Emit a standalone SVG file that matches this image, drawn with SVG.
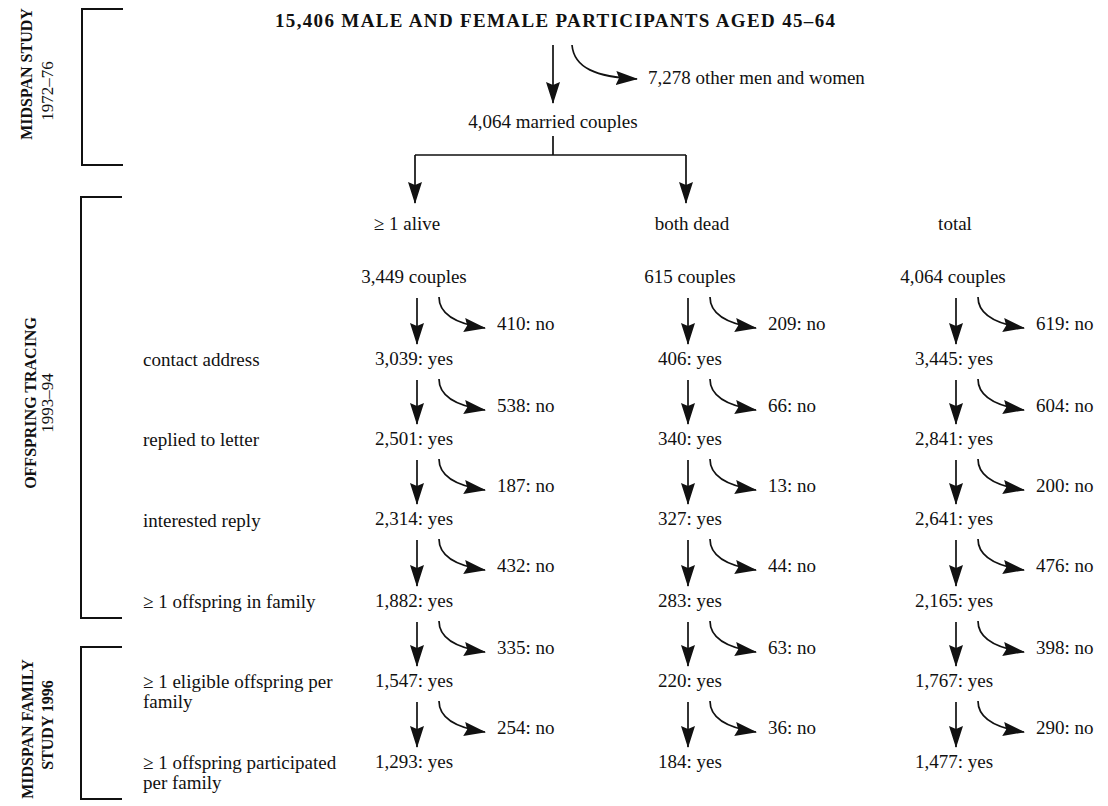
<svg xmlns="http://www.w3.org/2000/svg" width="1108" height="806" viewBox="0 0 1108 806">
<style>
text{font-family:"Liberation Serif","Times New Roman",serif;fill:#111;}
.t{font-size:19px;}
.c{font-size:19px;text-anchor:middle;}
.title{font-size:19px;font-weight:bold;text-anchor:middle;}
.sect{font-size:16px;font-weight:bold;text-anchor:middle;}
.yr{font-size:17px;text-anchor:middle;}
.ln{stroke:#111;stroke-width:1.7;fill:none;}
.ar{stroke:#111;stroke-width:1.7;fill:none;marker-end:url(#ah);}
.br{stroke:#111;stroke-width:2;fill:none;}
</style>
<defs>
<marker id="ah" markerUnits="userSpaceOnUse" markerWidth="22" markerHeight="14" refX="21" refY="7" orient="auto">
<path d="M0,0 L22,7 L0,14 L3,7 Z" fill="#111"/>
</marker>
</defs>
<rect width="1108" height="806" fill="#fff"/>

<g id="sections">
<path class="br" d="M123,9 H82 V165 H123"/>
<path class="br" d="M122,197 H81 V618 H122"/>
<path class="br" d="M122,647 H81 V799 H122"/>
<text class="sect" transform="translate(32,74) rotate(-90)">MIDSPAN STUDY</text>
<text class="yr" transform="translate(53,91) rotate(-90)">1972–76</text>
<text class="sect" transform="translate(36,403) rotate(-90)">OFFSPRING TRACING</text>
<text class="yr" transform="translate(53,403) rotate(-90)">1993–94</text>
<text class="sect" transform="translate(33,729) rotate(-90)">MIDSPAN FAMILY</text>
<text class="sect" transform="translate(53,725) rotate(-90)">STUDY 1996</text>
</g>

<g id="row-labels">
<text class="t" x="143" y="366">contact address</text>
<text class="t" x="143" y="446">replied to letter</text>
<text class="t" x="143" y="527">interested reply</text>
<text class="t" x="143" y="608">≥ 1 offspring in family</text>
<text class="t" x="143" y="688">≥ 1 eligible offspring per</text>
<text class="t" x="143" y="708">family</text>
<text class="t" x="143" y="769">≥ 1 offspring participated</text>
<text class="t" x="143" y="789">per family</text>
</g>

<g id="n-title"><text class="title" x="555" y="27" textLength="560" lengthAdjust="spacing">15,406 MALE AND FEMALE PARTICIPANTS AGED 45–64</text></g>
<g id="n-other"><text class="t" x="648" y="84">7,278 other men and women</text></g>
<g id="n-married"><text class="c" x="553" y="128">4,064 married couples</text></g>

<g id="n-alive-head"><text class="c" x="407" y="230">≥ 1 alive</text></g>
<g id="n-dead-head"><text class="c" x="692" y="230">both dead</text></g>
<g id="n-total-head"><text class="c" x="955" y="230">total</text></g>

<g id="col-alive">
<text class="c" x="414" y="283">3,449 couples</text>
<text class="c" x="414" y="365">3,039: yes</text>
<text class="c" x="414" y="445">2,501: yes</text>
<text class="c" x="414" y="525">2,314: yes</text>
<text class="c" x="414" y="607">1,882: yes</text>
<text class="c" x="414" y="687">1,547: yes</text>
<text class="c" x="414" y="768">1,293: yes</text>
<text class="t" x="497" y="330">410: no</text>
<text class="t" x="497" y="412">538: no</text>
<text class="t" x="497" y="492">187: no</text>
<text class="t" x="497" y="572">432: no</text>
<text class="t" x="497" y="654">335: no</text>
<text class="t" x="497" y="734">254: no</text>
</g>

<g id="col-dead">
<text class="c" x="690" y="283">615 couples</text>
<text class="c" x="690" y="365">406: yes</text>
<text class="c" x="690" y="445">340: yes</text>
<text class="c" x="690" y="525">327: yes</text>
<text class="c" x="690" y="607">283: yes</text>
<text class="c" x="690" y="687">220: yes</text>
<text class="c" x="690" y="768">184: yes</text>
<text class="t" x="768" y="330">209: no</text>
<text class="t" x="768" y="412">66: no</text>
<text class="t" x="768" y="492">13: no</text>
<text class="t" x="768" y="572">44: no</text>
<text class="t" x="768" y="654">63: no</text>
<text class="t" x="768" y="734">36: no</text>
</g>

<g id="col-total">
<text class="c" x="953" y="283">4,064 couples</text>
<text class="c" x="954" y="365">3,445: yes</text>
<text class="c" x="954" y="445">2,841: yes</text>
<text class="c" x="954" y="525">2,641: yes</text>
<text class="c" x="954" y="607">2,165: yes</text>
<text class="c" x="954" y="687">1,767: yes</text>
<text class="c" x="954" y="768">1,477: yes</text>
<text class="t" x="1036" y="330">619: no</text>
<text class="t" x="1036" y="412">604: no</text>
<text class="t" x="1036" y="492">200: no</text>
<text class="t" x="1036" y="572">476: no</text>
<text class="t" x="1036" y="654">398: no</text>
<text class="t" x="1036" y="734">290: no</text>
</g>

<g id="connectors">
<line class="ar" x1="553" y1="45" x2="553" y2="103"/>
<path class="ar" d="M572,45 C574,68 596,77 637,79"/>
<path class="ln" d="M553,136 V155 M415,155 H686"/>
<line class="ar" x1="415" y1="155" x2="415" y2="203"/>
<line class="ar" x1="686" y1="155" x2="686" y2="203"/>

<line class="ar" x1="417" y1="298" x2="417" y2="344"/>
<line class="ar" x1="417" y1="380" x2="417" y2="424"/>
<line class="ar" x1="417" y1="460" x2="417" y2="504"/>
<line class="ar" x1="417" y1="540" x2="417" y2="586"/>
<line class="ar" x1="417" y1="622" x2="417" y2="666"/>
<line class="ar" x1="417" y1="702" x2="417" y2="747"/>
<path class="ar" d="M439,297 C439,314 457,324 485,328"/>
<path class="ar" d="M439,379 C439,396 457,406 485,410"/>
<path class="ar" d="M439,459 C439,476 457,486 485,490"/>
<path class="ar" d="M439,539 C439,556 457,566 485,570"/>
<path class="ar" d="M439,621 C439,638 457,648 485,652"/>
<path class="ar" d="M439,701 C439,718 457,728 485,732"/>

<line class="ar" x1="688" y1="298" x2="688" y2="344"/>
<line class="ar" x1="688" y1="380" x2="688" y2="424"/>
<line class="ar" x1="688" y1="460" x2="688" y2="504"/>
<line class="ar" x1="688" y1="540" x2="688" y2="586"/>
<line class="ar" x1="688" y1="622" x2="688" y2="666"/>
<line class="ar" x1="688" y1="702" x2="688" y2="747"/>
<path class="ar" d="M710,297 C710,314 728,324 756,328"/>
<path class="ar" d="M710,379 C710,396 728,406 756,410"/>
<path class="ar" d="M710,459 C710,476 728,486 756,490"/>
<path class="ar" d="M710,539 C710,556 728,566 756,570"/>
<path class="ar" d="M710,621 C710,638 728,648 756,652"/>
<path class="ar" d="M710,701 C710,718 728,728 756,732"/>

<line class="ar" x1="956" y1="298" x2="956" y2="344"/>
<line class="ar" x1="956" y1="380" x2="956" y2="424"/>
<line class="ar" x1="956" y1="460" x2="956" y2="504"/>
<line class="ar" x1="956" y1="540" x2="956" y2="586"/>
<line class="ar" x1="956" y1="622" x2="956" y2="666"/>
<line class="ar" x1="956" y1="702" x2="956" y2="747"/>
<path class="ar" d="M978,297 C978,314 996,324 1024,328"/>
<path class="ar" d="M978,379 C978,396 996,406 1024,410"/>
<path class="ar" d="M978,459 C978,476 996,486 1024,490"/>
<path class="ar" d="M978,539 C978,556 996,566 1024,570"/>
<path class="ar" d="M978,621 C978,638 996,648 1024,652"/>
<path class="ar" d="M978,701 C978,718 996,728 1024,732"/>
</g>
</svg>
